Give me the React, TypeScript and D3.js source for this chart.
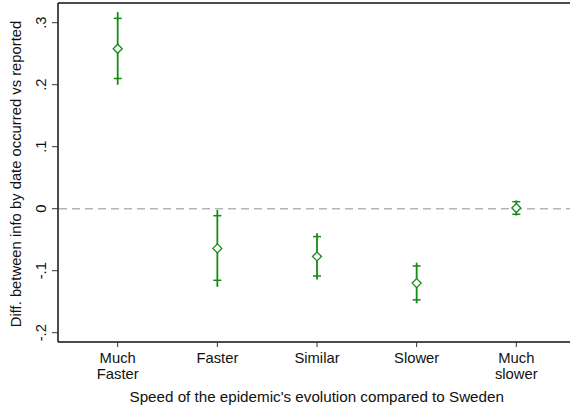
import React from "react";
import * as d3 from "d3";

const categories = [["Much", "Faster"], ["Faster"], ["Similar"], ["Slower"], ["Much", "slower"]];
const estimates = [0.258, -0.064, -0.077, -0.120, 0.001];
const ci90Low = [0.210, -0.1155, -0.1085, -0.147, -0.009];
const ci90High = [0.307, -0.0113, -0.045, -0.0924, 0.0113];
const ci95Low = [0.200, -0.126, -0.114, -0.1525, -0.011];
const ci95High = [0.317, -0.002, -0.0395, -0.087, 0.0133];
const yTicks = [-0.2, -0.1, 0, 0.1, 0.2, 0.3];
const yTickLabels = ["-.2", "-.1", "0", ".1", ".2", ".3"];

const W = 570, H = 411;
const left = 58, top = 3, bottom = 342, right = 570;
const green = "#128c12";
const font = "Liberation Sans, Arial, sans-serif";
const fs = 14.8;

export default function App() {
  const x = d3.scaleLinear().domain([1, 5]).range([117.7, 516.3]);
  const y = d3.scaleLinear().domain([0, 0.3]).range([208.7, 22.7]);
  return (
    <svg width={W} height={H} style={{ position: "absolute", left: 0, top: 0, background: "#fff" }} fontFamily={font}>
      <rect x={0} y={0} width={W} height={H} fill="#fff" />
      {/* frame */}
      <line x1={left} x2={right} y1={top} y2={top} stroke="#111" strokeWidth={1.5} />
      <line x1={left} x2={left} y1={top} y2={bottom} stroke="#111" strokeWidth={1.5} />
      <line x1={left} x2={right} y1={bottom} y2={bottom} stroke="#111" strokeWidth={1.5} />
      {/* zero line */}
      <line x1={left + 1} x2={right} y1={y(0)} y2={y(0)} stroke="#b4b4b4" strokeWidth={1.5} strokeDasharray="8,5" />
      {/* y ticks */}
      {yTicks.map((t, i) => (
        <g key={i}>
          <line x1={left - 6} x2={left} y1={y(t)} y2={y(t)} stroke="#333" strokeWidth={1} />
          <text transform={`translate(45.5,${y(t)}) rotate(-90)`} textAnchor="middle" fontSize={fs} fill="#111">{yTickLabels[i]}</text>
        </g>
      ))}
      {/* x ticks */}
      {categories.map((c, i) => (
        <g key={i}>
          <line x1={x(i + 1)} x2={x(i + 1)} y1={bottom} y2={bottom + 5} stroke="#333" strokeWidth={1} />
          {c.map((l, j) => (
            <text key={j} x={x(i + 1)} y={363 + j * 15.5} textAnchor="middle" fontSize={fs} fill="#111">{l}</text>
          ))}
        </g>
      ))}
      {/* axis titles */}
      <text x={316.7} y={402} textAnchor="middle" fontSize={15.2} fill="#111">Speed of the epidemic's evolution compared to Sweden</text>
      <text transform={`translate(21,174) rotate(-90)`} textAnchor="middle" fontSize={fs} fill="#111">Diff. between info by date occurred vs reported</text>
      {/* CIs and points */}
      {estimates.map((e, i) => {
        const cx = x(i + 1);
        const yl = y(ci90Low[i]), yh = y(ci90High[i]), ye = y(e);
        const s = 4.5;
        return (
          <g key={i}>
            <line x1={cx} x2={cx} y1={y(ci95High[i])} y2={y(ci95Low[i])} stroke={green} strokeWidth={1.8} />
            <line x1={cx - 4} x2={cx + 4} y1={yh} y2={yh} stroke={green} strokeWidth={1.5} />
            <line x1={cx - 4} x2={cx + 4} y1={yl} y2={yl} stroke={green} strokeWidth={1.5} />
            <path d={`M${cx},${ye - s} L${cx + s},${ye} L${cx},${ye + s} L${cx - s},${ye} Z`} fill="#fff" stroke={green} strokeWidth={1.3} />
          </g>
        );
      })}
    </svg>
  );
}
